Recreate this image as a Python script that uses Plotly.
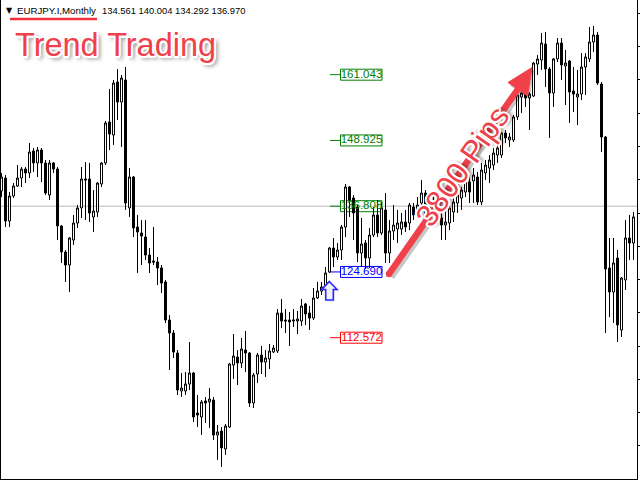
import pandas as pd
import plotly.graph_objects as go

# ---------------- data (EURJPY monthly) ----------------
months = pd.date_range("1996-03-01", periods=159, freq="MS").strftime("%Y-%m").tolist()

open_ = [
    139.61, 142.00, 134.08, 138.69, 140.53, 142.00, 143.66, 142.93, 146.98, 144.77,
    147.17, 144.77, 138.87, 144.77, 143.66, 133.16, 128.37, 125.97, 130.58, 133.71,
    136.48, 141.82, 141.82, 134.82, 135.74, 140.90, 144.77, 152.33, 149.93, 159.70,
    156.01, 160.07, 136.48, 142.19, 132.97, 131.87, 131.13, 127.81, 126.71, 126.52,
    125.42, 122.84, 115.83, 113.44, 109.75, 102.75, 102.75, 104.04, 106.07, 98.69,
    97.96, 100.91, 100.72, 101.09, 94.64, 95.38, 92.06, 96.11, 107.54, 109.01,
    107.91, 110.30, 109.75, 100.54, 105.88, 109.38, 108.09, 108.65, 109.93, 110.12,
    117.12, 115.83, 115.83, 115.65, 115.65, 115.65, 118.78, 117.12, 116.20, 119.89,
    121.18, 121.92, 124.68, 129.10, 127.45, 128.73, 132.97, 140.35, 138.32, 136.66,
    128.18, 130.02, 127.26, 131.50, 135.19, 131.87, 136.11, 128.18, 132.24, 132.60,
    132.60, 133.90, 133.71, 136.66, 135.55, 137.40, 139.24, 135.55, 137.40, 136.11,
    134.64, 133.34, 133.71, 135.74, 137.40, 138.32, 139.42, 141.27, 141.45, 142.19,
    137.58, 142.93, 143.85, 144.40, 146.24, 146.24, 150.30, 149.01, 149.01, 153.25,
    156.93, 157.67, 156.75, 157.12, 163.01, 163.75, 166.70, 162.09, 157.67, 163.94,
    166.88, 162.65, 163.57, 158.04, 156.93, 157.49, 162.46, 163.94, 167.07, 168.36,
    159.33, 149.56, 125.42, 120.99, 127.26, 113.99, 123.21, 130.95, 130.02]

high = [
    142.93, 142.56, 139.42, 141.08, 144.40, 144.03, 144.03, 148.46, 147.53, 147.72,
    147.53, 145.32, 145.32, 144.95, 144.03, 133.34, 128.73, 131.13, 135.19, 137.03,
    144.03, 144.95, 144.77, 139.79, 141.27, 144.95, 152.51, 158.41, 160.07, 162.09,
    160.99, 162.46, 143.85, 142.37, 135.19, 134.27, 134.27, 129.10, 132.97, 127.45,
    125.97, 123.21, 116.75, 113.99, 110.30, 106.07, 106.25, 111.78, 106.25, 102.01,
    101.09, 101.64, 103.30, 101.64, 96.48, 96.11, 96.67, 107.91, 113.25, 110.30,
    112.52, 113.81, 109.93, 106.07, 109.75, 111.04, 110.30, 111.41, 111.23, 117.86,
    119.70, 117.86, 117.31, 117.86, 117.49, 119.70, 118.97, 118.41, 121.73, 122.84,
    122.84, 125.60, 129.29, 130.95, 130.02, 133.34, 140.90, 140.53, 138.87, 137.03,
    134.64, 130.58, 132.79, 136.66, 137.95, 137.58, 139.24, 134.27, 137.03, 136.11,
    135.55, 136.11, 137.40, 137.40, 138.50, 141.64, 139.79, 138.87, 138.69, 137.03,
    136.11, 136.66, 137.40, 138.87, 140.16, 140.35, 142.00, 142.56, 143.85, 143.11,
    144.77, 145.32, 146.24, 147.53, 148.46, 150.48, 150.85, 150.30, 153.62, 157.67,
    158.59, 158.22, 157.85, 163.38, 164.67, 168.73, 168.91, 162.46, 164.12, 167.81,
    167.81, 165.60, 163.75, 162.46, 161.91, 165.04, 165.04, 169.83, 170.02, 168.91,
    159.70, 149.74, 130.95, 130.95, 128.73, 123.76, 134.27, 135.19, 135.74]

low = [
    138.50, 132.97, 132.97, 138.32, 140.35, 140.35, 141.08, 142.00, 143.11, 142.19,
    141.27, 138.87, 137.95, 142.93, 130.58, 126.34, 122.84, 120.99, 129.66, 132.79,
    134.64, 134.27, 133.90, 132.05, 134.82, 140.35, 144.40, 147.17, 148.09, 152.69,
    147.72, 136.11, 134.82, 131.13, 124.50, 125.97, 126.89, 124.50, 125.97, 122.28,
    120.81, 115.28, 106.62, 108.83, 102.01, 101.64, 102.01, 102.93, 97.03, 96.11,
    94.64, 96.85, 95.93, 93.72, 90.03, 88.74, 90.96, 95.93, 104.96, 103.85,
    106.99, 106.25, 99.80, 99.61, 104.22, 105.88, 105.33, 106.80, 109.75, 109.75,
    114.36, 113.44, 111.04, 114.54, 113.25, 114.73, 114.91, 113.99, 115.83, 119.70,
    120.44, 120.81, 124.50, 125.60, 126.89, 126.89, 131.13, 134.82, 130.58, 126.52,
    125.60, 125.23, 125.42, 131.13, 131.13, 131.50, 126.34, 126.34, 130.58, 130.02,
    131.50, 132.05, 132.42, 134.27, 134.82, 136.11, 134.82, 134.64, 135.19, 133.53,
    130.58, 130.58, 132.42, 133.90, 135.55, 136.11, 138.50, 137.40, 137.40, 137.03,
    137.03, 141.64, 141.08, 143.48, 144.77, 145.69, 148.46, 147.72, 148.64, 152.69,
    153.98, 155.09, 150.85, 156.93, 160.99, 161.91, 158.77, 149.38, 155.09, 163.38,
    160.07, 155.46, 152.14, 154.17, 151.77, 156.38, 157.30, 163.38, 165.23, 159.14,
    146.80, 113.44, 116.38, 115.28, 111.78, 112.70, 121.36, 126.89, 126.89]

close = [
    142.19, 134.08, 138.69, 140.53, 142.00, 143.66, 142.93, 146.80, 144.77, 147.17,
    144.77, 139.24, 144.77, 143.66, 133.16, 128.37, 125.97, 130.95, 133.71, 136.48,
    141.82, 141.64, 135.55, 135.92, 141.08, 144.77, 152.14, 150.11, 159.51, 156.01,
    160.43, 137.40, 142.19, 132.79, 132.05, 131.32, 127.81, 126.34, 126.52, 125.42,
    122.65, 115.83, 113.44, 109.93, 102.93, 103.30, 104.04, 106.07, 97.96, 98.32,
    100.72, 100.54, 101.27, 94.64, 95.19, 92.25, 96.30, 107.73, 109.20, 107.91,
    110.49, 109.75, 100.54, 105.70, 109.38, 108.09, 108.83, 110.12, 110.67, 117.12,
    115.65, 115.65, 115.47, 115.83, 116.02, 118.41, 116.94, 116.20, 119.89, 121.18,
    121.92, 124.50, 129.10, 127.45, 128.73, 132.97, 140.35, 137.95, 135.55, 128.18,
    129.84, 127.26, 131.50, 135.19, 131.87, 136.48, 128.18, 132.24, 133.34, 133.71,
    133.90, 132.97, 137.03, 135.19, 137.03, 139.24, 135.55, 137.40, 136.11, 134.64,
    133.34, 133.90, 136.48, 137.58, 138.87, 139.79, 141.45, 139.42, 142.56, 137.58,
    143.48, 144.40, 145.32, 146.61, 147.53, 150.30, 149.38, 149.56, 153.25, 157.30,
    157.67, 156.75, 157.49, 163.20, 163.94, 166.88, 162.09, 157.67, 163.94, 166.88,
    162.83, 163.20, 157.85, 157.49, 157.49, 162.46, 164.31, 167.07, 168.36, 159.51,
    149.56, 125.23, 120.99, 126.34, 114.91, 123.57, 130.95, 130.02, 134.82]

level_prices = [161.043, 148.925, 136.808, 124.690, 112.572]
level_colors = ["#008000", "#008000", "#008000", "#0000ff", "#ff0000"]
header_symbol = "EURJPY.I,Monthly"
header_ohlc = "134.561 140.004 134.292 136.970"
title_text = "Trend Trading"
arrow_text = "3800 Pips"

# ---------------- layout geometry ----------------
W, H = 640, 480
ML, MR, MT, MB = 1, 3, 0, 1
PW, PH = W - ML - MR, H - MT - MB
Y_MIN, Y_MAX = 86.53, 174.81
X_MIN, X_MAX = -0.125, 158.875


def px(x):  # pixel -> paper x
    return (x - ML) / PW


def py(y):  # pixel -> paper y
    return (H - MB - y) / PH


def xk(x):  # pixel -> x data (bar index)
    return X_MIN + (x - ML) * (X_MAX - X_MIN) / PW


idx = list(range(len(months)))
fig = go.Figure()

# price level labels (text below candles)
fig.add_trace(go.Scatter(
    x=[xk(361.5)] * len(level_prices), y=level_prices, mode="text",
    text=[f"{v:.3f}" for v in level_prices],
    textfont=dict(family="Liberation Sans, Arial", size=11.5, color=level_colors),
    textposition="middle center", hoverinfo="skip", showlegend=False))

fig.add_trace(go.Candlestick(
    x=idx, open=open_, high=high, low=low, close=close,
    customdata=months,
    increasing=dict(line=dict(color="black", width=1), fillcolor="white"),
    decreasing=dict(line=dict(color="black", width=1), fillcolor="black"),
    whiskerwidth=0, showlegend=False, hoverinfo="skip"))

shapes = []
# horizontal gray line at 136.808
shapes.append(dict(type="line", xref="paper", x0=0, x1=1, yref="y",
                   y0=level_prices[2], y1=level_prices[2],
                   line=dict(color="#b8b8b8", width=1), layer="below"))
half_h = (Y_MAX - Y_MIN) / PH * 5.5
for v, c in zip(level_prices, level_colors):
    shapes.append(dict(type="rect", xref="x", yref="y", x0=xk(340.5), x1=xk(382),
                       y0=v - half_h, y1=v + half_h, line=dict(color=c, width=1),
                       fillcolor="rgba(0,0,0,0)", layer="below"))
    shapes.append(dict(type="line", xref="x", yref="y", x0=xk(330), x1=xk(340.5),
                       y0=v, y1=v, line=dict(color=c, width=1), layer="below"))

# red underline of symbol
shapes.append(dict(type="line", xref="paper", yref="paper", x0=px(10), x1=px(97),
                   y0=py(19), y1=py(19), line=dict(color="#f0303a", width=2.5)))


def path_of(points, dx=0, dy=0):
    s = "M " + " L ".join(f"{px(x + dx):.5f},{py(y + dy):.5f}" for x, y in points)
    return s + " Z"


# blue up-arrow (outline)
pts = [(329.3, 281.5), (337, 289.5), (333.3, 289.5), (333.3, 300), (325.7, 300),
       (325.7, 289.5), (321.8, 289.5)]
shapes.append(dict(type="path", xref="paper", yref="paper", path=path_of(pts, 1.5, 1.5),
                   fillcolor="rgba(0,0,0,0.12)", line=dict(width=0)))
shapes.append(dict(type="path", xref="paper", yref="paper", path=path_of(pts),
                   fillcolor="#f0f0ff", line=dict(color="#2a2aff", width=1.6)))

# big red arrow
red = "#f0414b"
x0a, y0a, xba, yba = 389, 274, 518, 89
head = [(532, 67.5), (527.5, 96), (508, 82.5)]
shapes.append(dict(type="line", xref="paper", yref="paper", x0=px(x0a + 2), y0=py(y0a + 3),
                   x1=px(xba + 2), y1=py(yba + 3), line=dict(color="rgba(0,0,0,0.22)", width=7)))
shapes.append(dict(type="path", xref="paper", yref="paper", path=path_of(head, 2, 3),
                   fillcolor="rgba(0,0,0,0.22)", line=dict(width=0)))
shapes.append(dict(type="line", xref="paper", yref="paper", x0=px(x0a), y0=py(y0a),
                   x1=px(xba), y1=py(yba), line=dict(color=red, width=6.5)))
shapes.append(dict(type="circle", xref="paper", yref="paper", x0=px(x0a - 3.2), x1=px(x0a + 3.2),
                   y0=py(y0a + 3.2), y1=py(y0a - 3.2), fillcolor=red, line=dict(width=0)))
shapes.append(dict(type="path", xref="paper", yref="paper", path=path_of(head),
                   fillcolor=red, line=dict(color=red, width=1)))

outline = ("2px 0 0 #fff, -2px 0 0 #fff, 0 2px 0 #fff, 0 -2px 0 #fff, "
           "1.5px 1.5px 0 #fff, -1.5px -1.5px 0 #fff, 1.5px -1.5px 0 #fff, -1.5px 1.5px 0 #fff, "
           "3px 3px 4px rgba(0,0,0,0.55)")

annotations = [
    dict(x=px(4), y=py(10), xref="paper", yref="paper", text="▼", showarrow=False,
         xanchor="left", yanchor="middle", font=dict(size=8, color="black", family="DejaVu Sans")),
    dict(x=px(15), y=py(10), xref="paper", yref="paper", text=header_symbol, showarrow=False,
         xanchor="left", yanchor="middle", font=dict(size=9.7, color="black", family="Liberation Sans")),
    dict(x=px(100), y=py(10), xref="paper", yref="paper", text=header_ohlc, showarrow=False,
         xanchor="left", yanchor="middle", font=dict(size=9.4, color="black", family="Liberation Sans")),
    dict(x=px(13), y=py(45), xref="paper", yref="paper", text=title_text, showarrow=False,
         xanchor="left", yanchor="middle",
         font=dict(size=32.5, color=red, family="Liberation Sans", shadow=outline)),
    dict(x=px(462), y=py(166), xref="paper", yref="paper", text=arrow_text, showarrow=False,
         xanchor="center", yanchor="middle", textangle=-55,
         font=dict(size=31, color=red, family="Liberation Sans", shadow=outline)),
]

fig.update_layout(
    width=W, height=H, margin=dict(l=ML, r=MR, t=MT, b=MB, pad=0),
    paper_bgcolor="white", plot_bgcolor="white", boxgap=0.5, boxgroupgap=0.0,
    shapes=shapes, annotations=annotations, showlegend=False, hovermode=False,
    xaxis=dict(range=[X_MIN, X_MAX], showgrid=False, zeroline=False, showticklabels=False,
               ticks="", showline=True, linecolor="black", linewidth=1,
               rangeslider=dict(visible=False), fixedrange=True),
    yaxis=dict(range=[Y_MIN, Y_MAX], side="right", showgrid=False, zeroline=False,
               showticklabels=False, ticks="outside", ticklen=4, tickcolor="black",
               tick0=166.2, dtick=6.13, showline=True, linecolor="black", linewidth=1,
               mirror=True, fixedrange=True),
)

fig.write_html("out.html", config={"displayModeBar": False},
               post_script="document.body.style.margin='0';document.body.style.overflow='hidden';")
